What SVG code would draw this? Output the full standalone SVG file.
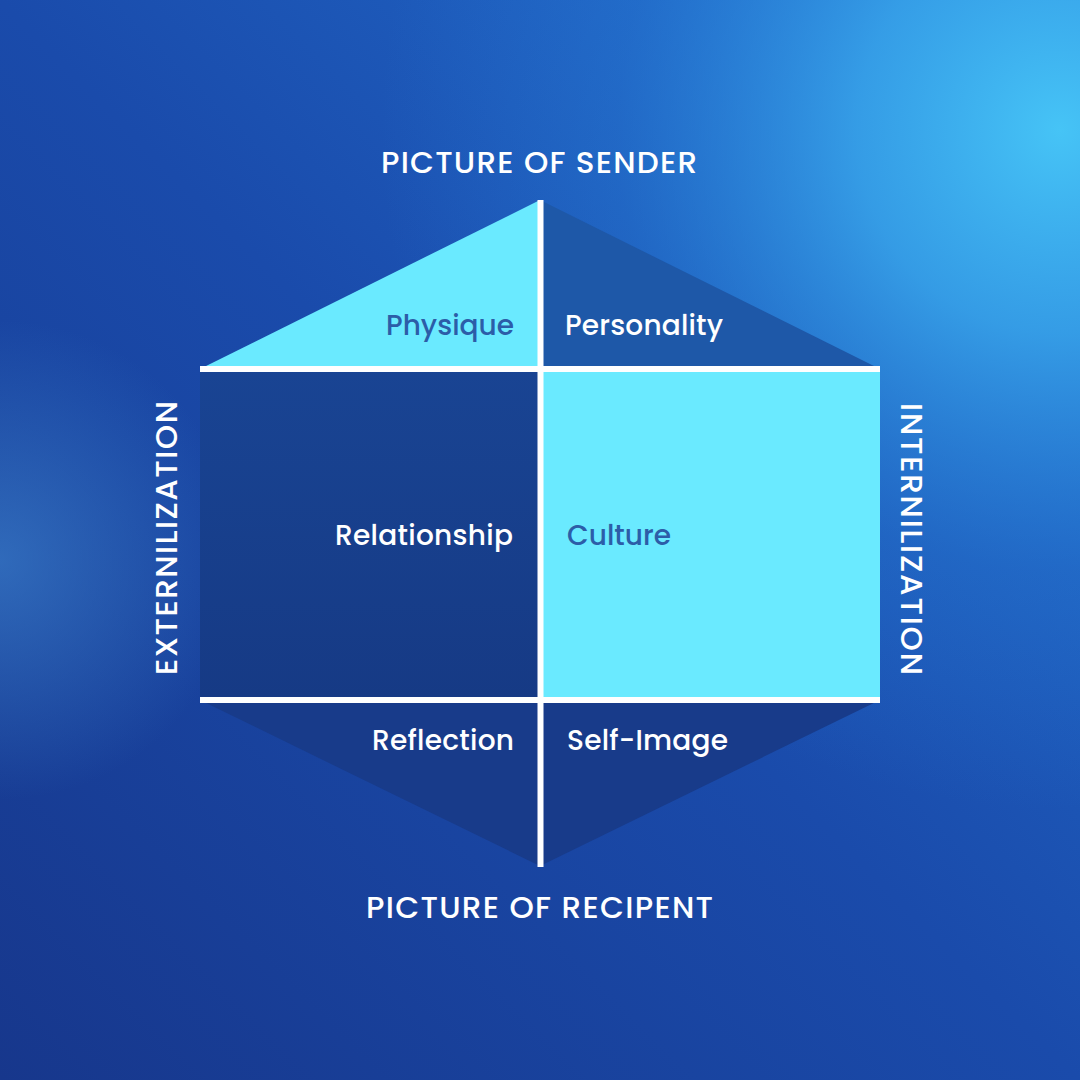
<svg xmlns="http://www.w3.org/2000/svg" width="1080" height="1080" viewBox="0 0 1080 1080">
<defs>
<linearGradient id="bg" x1="0" y1="1" x2="1" y2="0">
<stop offset="0" stop-color="#17378c"/>
<stop offset="0.5" stop-color="#1a4bab"/>
<stop offset="1" stop-color="#2270d0"/>
</linearGradient>
<radialGradient id="glowTR" cx="1060" cy="130" r="680" gradientUnits="userSpaceOnUse">
<stop offset="0" stop-color="#46c4f6" stop-opacity="1"/>
<stop offset="0.3" stop-color="#3aaaee" stop-opacity="0.8"/>
<stop offset="0.65" stop-color="#2a86de" stop-opacity="0.3"/>
<stop offset="1" stop-color="#2a80dc" stop-opacity="0"/>
</radialGradient>
<radialGradient id="glowL" cx="0" cy="560" r="240" gradientUnits="userSpaceOnUse">
<stop offset="0" stop-color="#3a7cc8" stop-opacity="0.7"/>
<stop offset="1" stop-color="#3a7cc8" stop-opacity="0"/>
</radialGradient>
<linearGradient id="darkCell" x1="0" y1="0" x2="0" y2="1">
<stop offset="0" stop-color="#194493"/>
<stop offset="1" stop-color="#163a85"/>
</linearGradient>
<style>
.lbl{font-family:"Poppins","Inter","Open Sans",sans-serif;font-weight:500;font-size:28px}
.ttl{font-family:"Poppins","Inter","Open Sans",sans-serif;font-weight:500;font-size:31px;fill:#ffffff}
.w{fill:#ffffff}
.d{fill:#2c5da8}
.cyan{fill:#6aeaff}
.sep{stroke:#ffffff;stroke-width:6;fill:none}
</style>
</defs>
<rect width="1080" height="1080" fill="url(#bg)"/>
<rect width="1080" height="1080" fill="url(#glowTR)"/>
<rect width="1080" height="1080" fill="url(#glowL)"/>

<g id="node-physique">
<polygon class="cyan" points="540,200 540,369 200,369"/>
<text class="lbl d" x="514" y="335" text-anchor="end" textLength="128" lengthAdjust="spacing">Physique</text>
</g>
<g id="node-personality">
<polygon points="540,200 880,369 540,369" fill="#1e58a8"/>
<text class="lbl w" x="565" y="335" textLength="158" lengthAdjust="spacing">Personality</text>
</g>
<g id="node-relationship">
<rect x="200" y="369" width="340" height="331" fill="url(#darkCell)"/>
<text class="lbl w" x="513" y="545" text-anchor="end" textLength="178" lengthAdjust="spacing">Relationship</text>
</g>
<g id="node-culture">
<rect class="cyan" x="540" y="369" width="340" height="331"/>
<text class="lbl d" x="567" y="545" textLength="104" lengthAdjust="spacing">Culture</text>
</g>
<g id="node-reflection">
<polygon points="200,700 540,700 540,866" fill="#183b8a"/>
<text class="lbl w" x="514" y="750" text-anchor="end" textLength="142" lengthAdjust="spacing">Reflection</text>
</g>
<g id="node-self-image">
<polygon points="540,700 880,700 540,866" fill="#183b8a"/>
<text class="lbl w" x="567" y="750" textLength="161" lengthAdjust="spacing">Self-Image</text>
</g>

<g id="connectors">
<line class="sep" x1="540.5" y1="200" x2="540.5" y2="867"/>
<line class="sep" x1="200" y1="369" x2="880" y2="369"/>
<line class="sep" x1="200" y1="700" x2="880" y2="700"/>
</g>

<g id="titles">
<text class="ttl" x="539" y="173" text-anchor="middle" textLength="316" lengthAdjust="spacing">PICTURE OF SENDER</text>
<text class="ttl" x="539.5" y="918" text-anchor="middle" textLength="347" lengthAdjust="spacing">PICTURE OF RECIPENT</text>
<text class="ttl" x="177" y="538" text-anchor="middle" transform="rotate(-90 177 538)" textLength="274" lengthAdjust="spacing">EXTERNILIZATION</text>
<text class="ttl" x="901" y="539" text-anchor="middle" transform="rotate(90 901 539)" textLength="272" lengthAdjust="spacing">INTERNILIZATION</text>
</g>
</svg>
